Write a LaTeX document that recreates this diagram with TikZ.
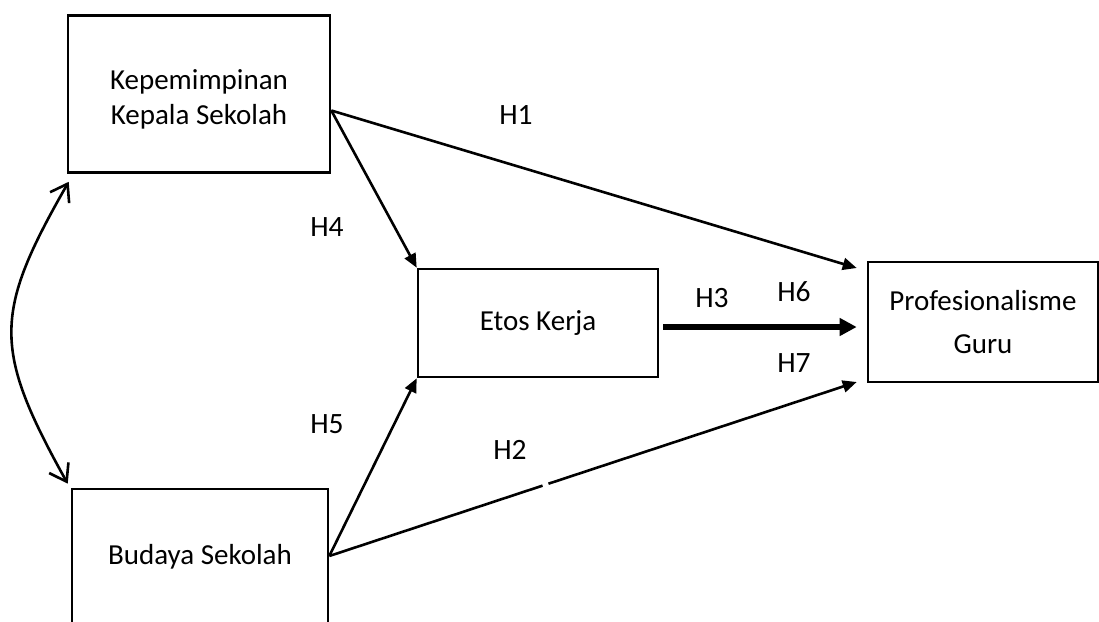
\documentclass[tikz,border=0pt]{standalone}
\usepackage{fontspec}
\setmainfont{Carlito}
\usetikzlibrary{arrows.meta,calc}
\begin{document}
\begin{tikzpicture}[x=1pt,y=-1pt,
  box/.style={draw, line width=2.6pt, inner sep=0pt, align=center,
    font=\fontsize{29}{35}\selectfont},
  hyp/.style={inner sep=0pt, font=\fontsize{29.5}{35}\selectfont},
  link/.style={line width=2.6pt, -{Triangle[length=14pt,width=12pt]}},
  mainlink/.style={line width=5.5pt, -{Triangle[length=17pt,width=17pt]}},
  corr/.style={line width=2.6pt,
    {Straight Barb[length=16pt,width=22pt]}-{Straight Barb[length=16pt,width=22pt]}}]
\useasboundingbox (0,0) rectangle (1099,621);

% variables
\node[box, minimum width=262pt, minimum height=157pt] (lead) at (199,94)
  {\rule{0pt}{30pt}Kepemimpinan\\Kepala Sekolah};
\node[box, minimum width=256pt, minimum height=136pt] (cult) at (200,557)
  {Budaya Sekolah};
\node[box, minimum width=240pt, minimum height=108pt] (etos) at (538,323)
  {Etos Kerja};
\node[box, minimum width=230pt, minimum height=120pt,
  font=\fontsize{29}{43}\selectfont] (prof) at (983,322)
  {Profesionalisme\\Guru};

% hypothesis labels
\node[hyp] (h1) at (516,115) {H1};
\node[hyp] (h2) at (510,450) {H2};
\node[hyp] (h3) at (712,298) {H3};
\node[hyp] (h4) at (327,227) {H4};
\node[hyp] (h5) at (327,424) {H5};
\node[hyp] (h6) at (794,292) {H6};
\node[hyp] (h7) at (794,363) {H7};

% connector ends
\coordinate (leadOut) at ([yshift=-16.5pt]lead.east);
\coordinate (cultOut) at ([yshift=1pt]cult.east);
\coordinate (etosOut) at ([xshift=4pt,yshift=-4pt]etos.east);
\coordinate (profTop) at ([xshift=-10pt,yshift=54pt]prof.west);
\coordinate (profMid) at ([xshift=-10pt,yshift=-5pt]prof.west);
\coordinate (profBot) at ([xshift=-10pt,yshift=-60pt]prof.west);
\coordinate (corrTop) at ([xshift=2pt,yshift=-8pt]lead.south west);
\coordinate (corrBot) at ([xshift=-3pt,yshift=4pt]cult.north west);

% paths
\draw[link] (leadOut) -- (profTop);
\draw[link] (leadOut) -- (etos.north west);
\draw[link] (cultOut) -- (etos.south west);
\draw[link] (cultOut) -- node[pos=0.41, sloped, fill=white, inner sep=0pt,
  minimum width=6pt, minimum height=5pt] (gap) {} (profBot);
\draw[mainlink] (etosOut) -- (profMid);

% correlation between the two exogenous variables
\draw[corr] (corrTop) .. controls (-7,314) and (-7,349) .. (corrBot);
\end{tikzpicture}
\end{document}
